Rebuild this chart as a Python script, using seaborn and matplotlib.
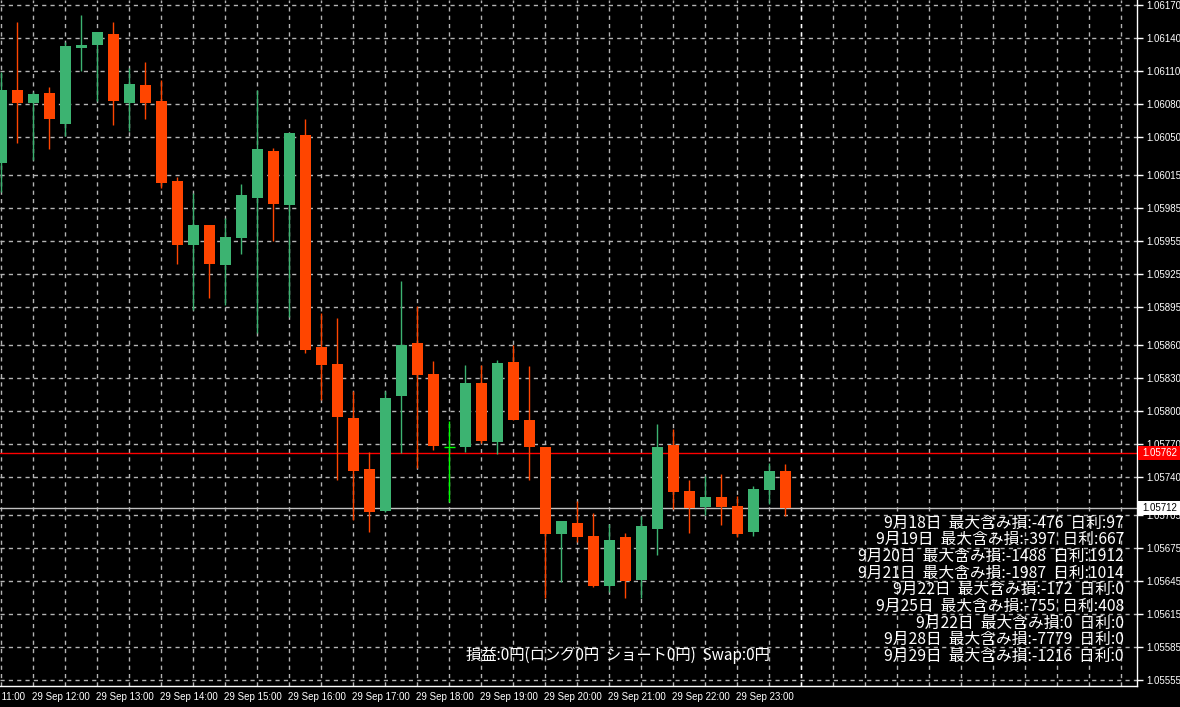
import matplotlib
matplotlib.use("Agg")
import matplotlib.pyplot as plt
from matplotlib.patches import Rectangle
import seaborn as sns

# 15 minute candles, 29 Sep 11:30 .. 23:45
opens = [1.06026, 1.06093, 1.06081, 1.06090, 1.06062, 1.06131, 1.06134, 1.06144, 1.06081, 1.06097,
         1.06083, 1.06010, 1.05951, 1.05970, 1.05933, 1.05958, 1.05994, 1.06037, 1.05988, 1.06052,
         1.05858, 1.05843, 1.05794, 1.05747, 1.05709, 1.05814, 1.05862, 1.05834, 1.05767, 1.05767,
         1.05826, 1.05772, 1.05845, 1.05792, 1.05767, 1.05688, 1.05698, 1.05686, 1.05641, 1.05685,
         1.05646, 1.05693, 1.05769, 1.05727, 1.05713, 1.05722, 1.05714, 1.05690, 1.05728, 1.05745]
highs = [1.06109, 1.06155, 1.06091, 1.06095, 1.06136, 1.06161, 1.06145, 1.06155, 1.06113, 1.06118,
         1.06102, 1.06013, 1.05999, 1.05970, 1.05976, 1.06007, 1.06093, 1.06040, 1.06053, 1.06066,
         1.05889, 1.05885, 1.05818, 1.05763, 1.05818, 1.05919, 1.05896, 1.05846, 1.05791, 1.05842,
         1.05842, 1.05847, 1.05860, 1.05841, 1.05767, 1.05700, 1.05718, 1.05707, 1.05697, 1.05689,
         1.05704, 1.05788, 1.05784, 1.05737, 1.05741, 1.05743, 1.05723, 1.05732, 1.05753, 1.05752]
lows = [1.06000, 1.06044, 1.06029, 1.06039, 1.06051, 1.06110, 1.06083, 1.06061, 1.06055, 1.06066,
        1.06003, 1.05934, 1.05892, 1.05903, 1.05897, 1.05943, 1.05871, 1.05955, 1.05886, 1.05853,
        1.05810, 1.05737, 1.05701, 1.05690, 1.05708, 1.05762, 1.05748, 1.05765, 1.05717, 1.05763,
        1.05771, 1.05761, 1.05792, 1.05737, 1.05630, 1.05644, 1.05681, 1.05640, 1.05635, 1.05630,
        1.05630, 1.05669, 1.05711, 1.05689, 1.05705, 1.05696, 1.05685, 1.05686, 1.05715, 1.05704]
closes = [1.06093, 1.06081, 1.06089, 1.06066, 1.06133, 1.06134, 1.06145, 1.06083, 1.06098, 1.06081,
          1.06008, 1.05951, 1.05970, 1.05934, 1.05959, 1.05997, 1.06039, 1.05989, 1.06053, 1.05856,
          1.05842, 1.05795, 1.05745, 1.05708, 1.05812, 1.05860, 1.05833, 1.05768, 1.05767, 1.05826,
          1.05773, 1.05844, 1.05792, 1.05767, 1.05688, 1.05700, 1.05685, 1.05641, 1.05683, 1.05645,
          1.05695, 1.05767, 1.05726, 1.05712, 1.05722, 1.05713, 1.05688, 1.05729, 1.05745, 1.05712]

hour_labels = ["29 Sep 11:00", "29 Sep 12:00", "29 Sep 13:00", "29 Sep 14:00", "29 Sep 15:00",
               "29 Sep 16:00", "29 Sep 17:00", "29 Sep 18:00", "29 Sep 19:00", "29 Sep 20:00",
               "29 Sep 21:00", "29 Sep 22:00", "29 Sep 23:00"]
hour_pos = [-2, 2, 6, 10, 14, 18, 22, 26, 30, 34, 38, 42, 46]

price_ticks = [1.06170, 1.06140, 1.06110, 1.06080, 1.06050, 1.06015, 1.05985, 1.05955, 1.05925,
               1.05895, 1.05860, 1.05830, 1.05800, 1.05770, 1.05740, 1.05705, 1.05675, 1.05645,
               1.05615, 1.05585, 1.05555]
ask_price = 1.05762
bid_price = 1.05712

stats_lines = ["9月18日  最大含み損:-476  日利:97",
               "9月19日  最大含み損:-397  日利:667",
               "9月20日  最大含み損:-1488  日利:1912",
               "9月21日  最大含み損:-1987  日利:1014",
               "9月22日  最大含み損:-172  日利:0",
               "9月25日  最大含み損:-755  日利:408",
               "9月22日  最大含み損:0  日利:0",
               "9月28日  最大含み損:-7779  日利:0",
               "9月29日  最大含み損:-1216  日利:0"]
pnl_text = "損益:0円(ロング0円  ショート0円)  Swap:0円"

sns.set_theme(style="dark", rc={"axes.facecolor": "black", "figure.facecolor": "black",
                                "savefig.facecolor": "black"})
plt.rcParams["font.family"] = ["Liberation Sans", "DejaVu Sans"]
jp = ["Noto Sans CJK JP", "DejaVu Sans"]

up_c = "#3cb371"
down_c = "#ff4500"
doji_c = "#00ff00"
grid_c = "#b4b4b4"
dash = (0, (3, 3))

fig = plt.figure(figsize=(11.8, 7.07), dpi=100)
ax = fig.add_axes([0, 21 / 707, 1137 / 1180, 686 / 707])

ax.set_xlim(-0.08, 70.98)
ax.set_ylim(1.0554954, 1.061746)

# grid
ax.set_xticks(range(0, 72, 2))
ax.set_xticklabels([])
ax.set_yticks(price_ticks)
ax.set_yticklabels([f"{p:.5f}" for p in price_ticks])
ax.grid(True, color=grid_c, linestyle=dash, linewidth=1)
ax.axvline(50, color="white", linestyle=dash, linewidth=1, zorder=1)
ax.set_axisbelow(True)

# candles
xs = list(range(len(opens)))
colors = []
for o, c in zip(opens, closes):
    if c > o:
        colors.append(up_c)
    elif c < o:
        colors.append(down_c)
    else:
        colors.append(doji_c)
ax.vlines(xs, lows, highs, colors=colors, linewidth=1, zorder=3)
bottoms = [min(o, c) for o, c in zip(opens, closes)]
heights = [abs(c - o) for o, c in zip(opens, closes)]
ax.bar(xs, heights, bottom=bottoms, width=0.69, color=colors, linewidth=0, zorder=4)
for x, o, c in zip(xs, opens, closes):
    if o == c:
        ax.hlines(o, x - 0.35, x + 0.35, color=doji_c, linewidth=1, zorder=4)

# price lines
ax.axhline(ask_price, color="#ff0000", linewidth=1, zorder=2)
ax.axhline(bid_price, color="#c0c0c0", linewidth=1, zorder=2)

# axes styling
for s in ["left", "top"]:
    ax.spines[s].set_visible(False)
for s in ["right", "bottom"]:
    ax.spines[s].set_color("white")
    ax.spines[s].set_linewidth(1)
ax.yaxis.tick_right()
ax.tick_params(axis="y", colors="white", labelcolor="white", length=4, width=1,
               labelsize=7, pad=3, direction="out")
ax.tick_params(axis="x", colors="white", length=4, width=1, direction="out")
ax.set_xlabel("")
ax.set_ylabel("")

ytr = ax.get_xaxis_transform()
for pos, lab in zip(hour_pos, hour_labels):
    ax.text(pos - 0.06, -0.0085, lab, transform=ytr, ha="left", va="top", color="white",
            fontsize=7, clip_on=False)

# price boxes at the right scale
yblend = ax.get_yaxis_transform()
box_h = 0.000128
for price, fc, tc in [(ask_price, "#ff0000", "white"), (bid_price, "white", "black")]:
    ax.add_patch(Rectangle((1.001, price - box_h / 2), 0.04, box_h, transform=yblend,
                           facecolor=fc, edgecolor="none", clip_on=False, zorder=10))
    ax.text(1.0045, price, f"{price:.5f}", transform=yblend, ha="left", va="center",
            color=tc, fontsize=7, clip_on=False, zorder=11)

# overlay text
for i, line in enumerate(stats_lines):
    y_px = 523 + i * 16.7
    fig.text(1124 / 1180, 1 - y_px / 707, line, ha="right", va="center", color="white",
             fontsize=11.3, family=jp)
fig.text(466 / 1180, 1 - 655 / 707, pnl_text, ha="left", va="center", color="white",
         fontsize=11, family=jp)

fig.savefig("out.png", dpi=100, facecolor="black")
